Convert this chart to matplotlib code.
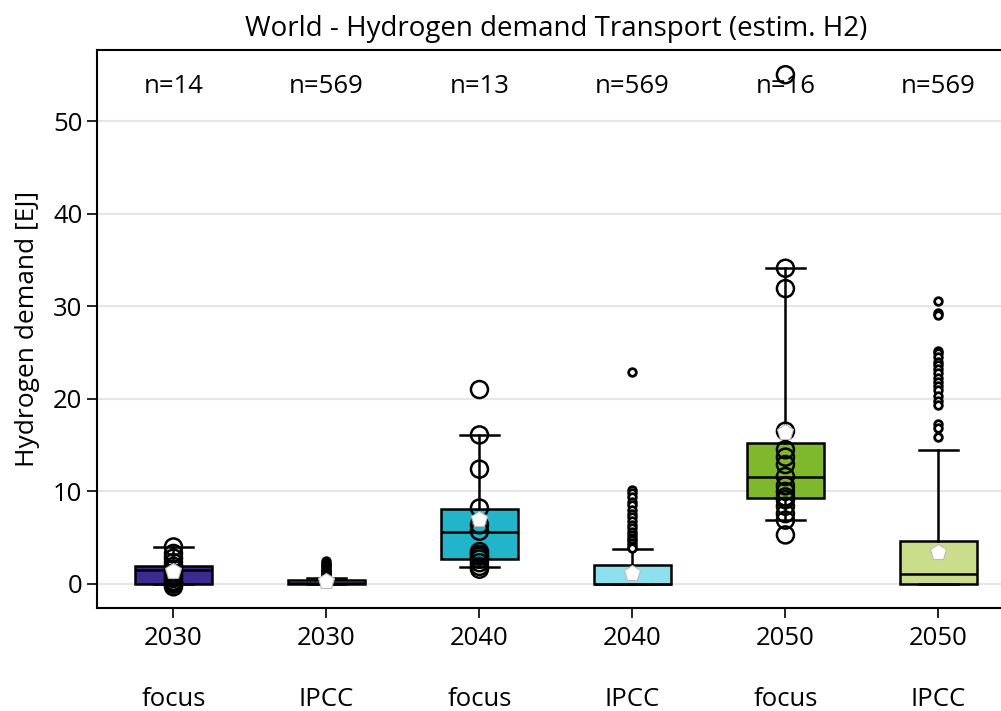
import matplotlib
matplotlib.use("Agg")
import matplotlib.pyplot as plt

plt.rcParams['font.family'] = ['Open Sans', 'DejaVu Sans']

# ---- data ----
labels = ["2030\n\nfocus", "2030\n\nIPCC", "2040\n\nfocus", "2040\n\nIPCC", "2050\n\nfocus", "2050\n\nIPCC"]
counts = [14, 569, 13, 569, 16, 569]
colors = ["#3b2a92", "#a393e6", "#22b4c8", "#8de1ef", "#7db92b", "#c9dd8b"]
is_focus = [True, False, True, False, True, False]

q1 = [0.0, 0.0, 2.7, 0.0, 9.3, 0.0]
med = [1.5, 0.1, 5.6, 0.0, 11.6, 1.1]
q3 = [1.95, 0.45, 8.1, 2.0, 15.2, 4.65]
whislo = [0.0, 0.0, 1.8, 0.0, 6.9, 0.0]
whishi = [4.0, 0.7, 16.1, 3.8, 34.1, 14.5]
means = [1.45, 0.3, 7.05, 1.15, 16.4, 3.5]

# all scenario values for focus groups (drawn as open circles)
focus_2030 = [4.0, 3.3, 2.8, 2.3, 1.9, 1.6, 1.2, 0.9, 0.6, 0.3, 0.1, 0.0, 0.0, -0.3]
focus_2040 = [21.0, 16.1, 12.4, 8.2, 6.4, 5.7, 3.5, 3.2, 3.0, 2.7, 2.3, 1.9, 1.6]
focus_2050 = [55.0, 34.1, 31.9, 16.5, 14.5, 13.7, 12.9, 11.6, 10.6, 10.0, 9.4, 9.1,
              8.4, 7.6, 6.9, 5.3]

# outliers for IPCC groups
fliers_2030 = [2.5, 2.3, 2.1, 1.9, 1.7, 1.5, 1.4, 1.3, 1.2, 1.1, 1.0, 0.9]
fliers_2040 = [22.9, 10.1, 9.8, 9.4, 8.9, 8.5, 8.0, 7.6, 7.2, 6.8, 6.4, 6.0, 5.6,
               5.3, 5.0, 4.7, 4.4, 4.1, 3.9]
fliers_2050 = [30.6, 29.3, 29.0, 25.2, 24.9, 24.5, 24.0, 23.6, 23.2, 22.8, 22.3, 21.8,
               21.4, 20.9, 20.3, 19.8, 19.3, 17.3, 16.9, 15.9]

points = [focus_2030, fliers_2030, focus_2040, fliers_2040, focus_2050, fliers_2050]

stats = []
for i in range(len(labels)):
    stats.append(dict(med=med[i], q1=q1[i], q3=q3[i], whislo=whislo[i], whishi=whishi[i],
                      mean=means[i], fliers=[] if is_focus[i] else points[i]))

fig = plt.figure(figsize=(10.01, 7.11), dpi=100)
ax = fig.add_axes([0.0969, 0.1449, 0.917, 0.7848])

lw = 1.8
pos = list(range(len(labels)))
bp = ax.bxp(stats, positions=pos, widths=0.5, patch_artist=True, showmeans=True,
            capwidths=0.26,
            boxprops=dict(edgecolor="black", linewidth=lw),
            medianprops=dict(color="black", linewidth=lw),
            whiskerprops=dict(color="black", linewidth=lw),
            capprops=dict(color="black", linewidth=lw),
            flierprops=dict(marker="o", markersize=5.5, markerfacecolor="white",
                            markeredgecolor="black", markeredgewidth=2),
            meanprops=dict(marker="p", markersize=12, markerfacecolor="white",
                           markeredgecolor="#bbbbbb", markeredgewidth=0.8))
for patch, c in zip(bp["boxes"], colors):
    patch.set_facecolor(c)
for m in bp["means"]:
    m.set_zorder(5)

for i, vals in enumerate(points):
    if is_focus[i]:
        ax.scatter([pos[i]] * len(vals), vals, s=150, facecolors="none",
                   edgecolors="black", linewidths=1.8, zorder=4, clip_on=False)

for i, n in enumerate(counts):
    ax.text(pos[i], 0.934, f"n={n}", transform=ax.get_xaxis_transform(),
            ha="center", va="center", fontsize=18.5)

ax.set_xlim(-0.5, 5.5)
ax.set_ylim(-2.59, 57.67)
ax.set_yticks([0, 10, 20, 30, 40, 50])
ax.set_xticks(pos)
ax.set_xticklabels(labels, fontsize=18.5, linespacing=1.28)
ax.tick_params(axis="y", labelsize=18.5, length=7, width=1.2)
ax.tick_params(axis="x", length=7, width=1.2, pad=6)
ax.grid(axis="y", color="#e6e6e6", linewidth=1.5)
ax.set_axisbelow(True)
for s in ax.spines.values():
    s.set_linewidth(1.5)
ax.set_ylabel("Hydrogen demand [EJ]", fontsize=19)
ax.yaxis.set_label_coords(-0.062, 0.5)
ax.set_title("World - Hydrogen demand Transport (estim. H2)", fontsize=20, pad=10)

fig.savefig("out.png", dpi=100)
